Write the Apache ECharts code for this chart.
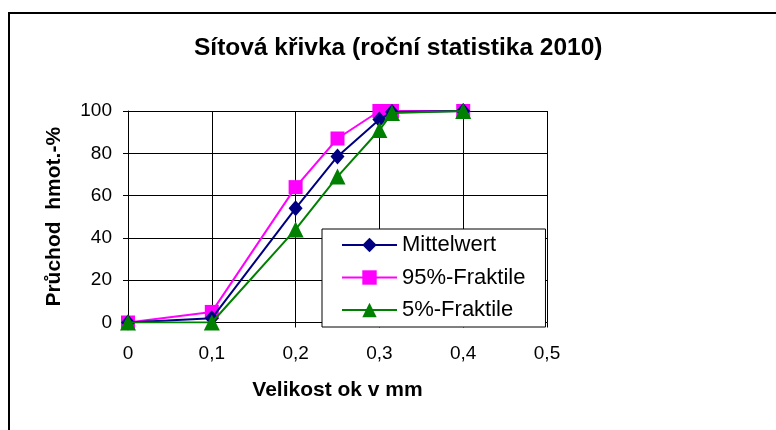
<!DOCTYPE html>
<html>
<head>
<meta charset="utf-8">
<title>Sítová křivka</title>
<script src="https://cdn.jsdelivr.net/npm/echarts@6/dist/echarts.min.js"></script>
<style>
    html, body { margin: 0; padding: 0; background: #fff; }
    #chart { width: 776px; height: 430px; }
</style>
</head>
<body>
<div id="chart"></div>
<script type="text/javascript">
// velikost ok (mm)
var sizes = [0, 0.1, 0.2, 0.25, 0.3, 0.315, 0.4];
// průchod v %
var mittelwert = [0, 2, 54, 78.5, 96, 99.5, 100];
var fraktil95 = [0, 5, 64, 87, 100, 100, 100];
var fraktil5 = [0, 0, 44, 69, 91, 99, 100];
var seriesNames = ['Mittelwert', '95%-Fraktile', '5%-Fraktile'];

function pairs(vals) {
    return sizes.map(function (x, i) { return [x, vals[i]]; });
}

var font = 'Liberation Sans, Arial, sans-serif';
var chart = echarts.init(document.getElementById('chart'));

chart.setOption({
    animation: false,
    backgroundColor: '#fff',
    title: {
        text: 'Sítová křivka (roční statistika 2010)',
        left: 194,
        top: 36,
        padding: 0,
        textStyle: { fontFamily: font, fontSize: 24.5, fontWeight: 'bold', color: '#000' }
    },
    graphic: [{
        type: 'rect',
        shape: { x: 9, y: 13, width: 820, height: 500 },
        style: { fill: 'none', stroke: '#000', lineWidth: 2 },
        silent: true
    }],
    grid: { left: 128, top: 111, right: 229, bottom: 107.5, outerBoundsMode: 'none' },
    legend: {
        data: seriesNames,
        orient: 'vertical',
        left: 322,
        top: 229,
        padding: [5, 20, 6, 19],
        itemGap: 10.5,
        itemWidth: 55,
        itemHeight: 18,
        backgroundColor: '#fff',
        borderColor: '#000',
        borderWidth: 1,
        textStyle: { fontFamily: font, fontSize: 22, color: '#000', lineHeight: 22 }
    },
    xAxis: {
        type: 'value',
        min: 0,
        max: 0.5,
        interval: 0.1,
        name: 'Velikost ok v mm',
        nameLocation: 'middle',
        nameGap: 57,
        nameTextStyle: { fontFamily: font, fontSize: 21, fontWeight: 'bold', color: '#000' },
        axisLine: { lineStyle: { color: '#000', width: 1 } },
        axisTick: { show: true, length: 5, lineStyle: { color: '#000' } },
        axisLabel: {
            fontFamily: font, fontSize: 19, color: '#000', margin: 22,
            formatter: function (v) { return String(v).replace('.', ','); }
        },
        splitLine: { show: true, lineStyle: { color: '#000', width: 1 } }
    },
    yAxis: {
        type: 'value',
        min: 0,
        max: 100,
        interval: 20,
        name: 'Průchod  hmot.-%',
        nameLocation: 'middle',
        nameGap: 63,
        nameTextStyle: { fontFamily: font, fontSize: 21, fontWeight: 'bold', color: '#000' },
        axisLine: { show: true, lineStyle: { color: '#000', width: 1 } },
        axisTick: { show: true, length: 5, lineStyle: { color: '#000' } },
        axisLabel: { fontFamily: font, fontSize: 19, color: '#000', margin: 16 },
        splitLine: { show: true, lineStyle: { color: '#000', width: 1 } }
    },
    series: [
        {
            name: '95%-Fraktile',
            type: 'line',
            data: pairs(fraktil95),
            symbol: 'rect',
            symbolSize: 14,
            z: 2,
            itemStyle: { color: '#ff00ff' },
            lineStyle: { color: '#ff00ff', width: 2 }
        },
        {
            name: 'Mittelwert',
            type: 'line',
            data: pairs(mittelwert),
            symbol: 'diamond',
            symbolSize: [14, 16],
            z: 3,
            itemStyle: { color: '#000080' },
            lineStyle: { color: '#000080', width: 2 }
        },
        {
            name: '5%-Fraktile',
            type: 'line',
            data: pairs(fraktil5),
            symbol: 'triangle',
            symbolSize: 16,
            z: 4,
            itemStyle: { color: '#008000' },
            lineStyle: { color: '#008000', width: 2 }
        }
    ]
});
</script>
</body>
</html>
